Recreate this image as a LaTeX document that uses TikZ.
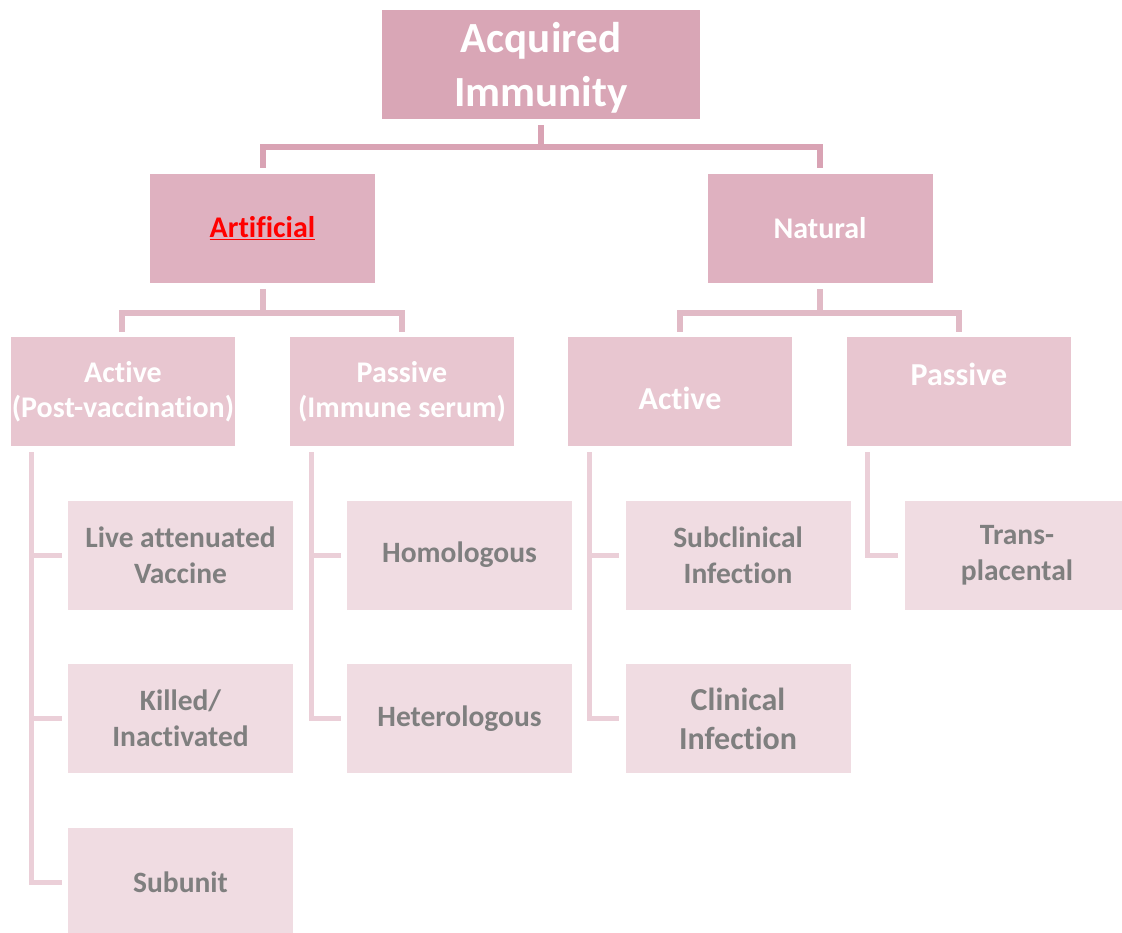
\documentclass[tikz,border=0pt]{standalone}
\usepackage{fontspec}
\setmainfont{Carlito}[Ligatures=NoCommon]
\definecolor{c1}{HTML}{D9A6B6}
\definecolor{c2}{HTML}{DFB1C0}
\definecolor{c3}{HTML}{E8C6D0}
\definecolor{c4}{HTML}{F0DCE2}
\definecolor{l1}{HTML}{D9A3B4}
\definecolor{l2}{HTML}{E1BAC6}
\definecolor{l3}{HTML}{EBCFD8}
\definecolor{tg}{HTML}{7F7F7F}
\begin{document}
\begin{tikzpicture}[x=1pt,y=-1pt,
  box/.style={rectangle,inner sep=0pt,align=center,font=\bfseries},
  topbox/.style={box,fill=c1,text=white,minimum width=318pt,minimum height=109pt,font=\bfseries\fontsize{43}{54}\selectfont},
  midbox/.style={box,fill=c2,text=white,minimum width=225pt,minimum height=109pt,font=\bfseries\fontsize{30}{34}\selectfont},
  lthree/.style={box,fill=c3,text=white,minimum width=224pt,minimum height=109pt,font=\bfseries\fontsize{30}{35}\selectfont},
  leaf/.style={box,fill=c4,text=tg,minimum width=225pt,minimum height=109pt,font=\bfseries\fontsize{29.5}{36}\selectfont},
  lineA/.style={draw=l1,line width=6pt},
  lineB/.style={draw=l2,line width=6pt},
  lineC/.style={draw=l3,line width=5pt}]
\useasboundingbox (0,0) rectangle (1122,933);
\clip (0,0) rectangle (1122,933);
% level 1
\node[topbox,text height=85pt,text depth=0pt] (top) at (541,64.5) {Acquired\\Immunity};
% level 2
\node[midbox] (art) at (262.5,228.5) {\textcolor{red}{\underline{Artificial}}};
\node[midbox] (nat) at (820,228.5) {Natural};
% level 3
\node[lthree] (aa) at (123,391.5) {Active\\(Post-vaccination)};
\node[lthree] (ap) at (402,391.5) {Passive\\(Immune serum)};
\node[lthree,font=\bfseries\fontsize{32}{35}\selectfont,text height=35pt,text depth=0pt] (na) at (680,391.5) {Active};
\node[lthree,font=\bfseries\fontsize{32}{37}\selectfont,text height=22pt,text depth=35pt] (np) at (959,391.5) {Passive};
% level 4
\node[leaf] (live) at (180.5,555) {Live attenuated\\Vaccine};
\node[leaf] (killed) at (180.5,718.5) {Killed/\\Inactivated};
\node[leaf] (subunit) at (180.5,882.5) {Subunit};
\node[leaf] (homo) at (459.5,555) {Homologous};
\node[leaf] (hetero) at (459.5,718.5) {Heterologous};
\node[leaf] (subc) at (738,555) {Subclinical\\Infection};
\node[leaf,font=\bfseries\fontsize{32}{39}\selectfont] (clin) at (738,718.5) {Clinical\\Infection};
\node[leaf] (trans) at (1017,555) {Trans-\\placental};
% connectors level 1 -> 2
\draw[lineA] ([yshift=-6pt]top.south) -- ++(0,22) -| ([yshift=6pt]art.north);
\draw[lineA] ([yshift=-6pt]top.south) -- ++(0,22) -| ([yshift=6pt]nat.north);
% connectors level 2 -> 3
\draw[lineB] ([yshift=-6pt]art.south) -- ++(0,24) -| ([yshift=5pt]aa.north -| 122,0);
\draw[lineB] ([yshift=-6pt]art.south) -- ++(0,24) -| ([yshift=5pt]ap.north);
\draw[lineB] ([yshift=-6pt]nat.south) -- ++(0,24) -| ([yshift=5pt]na.north);
\draw[lineB] ([yshift=-6pt]nat.south) -- ++(0,24) -| ([yshift=5pt]np.north);
% connectors level 3 -> 4
\coordinate (aaS) at ([yshift=-6pt]aa.south west -| 31,0);
\draw[lineC] (aaS) |- ([xshift=-6pt]live.west);
\draw[lineC] (aaS) |- ([xshift=-6pt]killed.west);
\draw[lineC] (aaS) |- ([xshift=-6pt]subunit.west);
\coordinate (apS) at ([yshift=-6pt]ap.south west -| 311,0);
\draw[lineC] (apS) |- ([xshift=-6pt]homo.west);
\draw[lineC] (apS) |- ([xshift=-6pt]hetero.west);
\coordinate (naS) at ([yshift=-6pt]na.south west -| 589,0);
\draw[lineC] (naS) |- ([xshift=-6pt]subc.west);
\draw[lineC] (naS) |- ([xshift=-6pt]clin.west);
\coordinate (npS) at ([yshift=-6pt]np.south west -| 867,0);
\draw[lineC] (npS) |- ([xshift=-6pt]trans.west);
\end{tikzpicture}
\end{document}
